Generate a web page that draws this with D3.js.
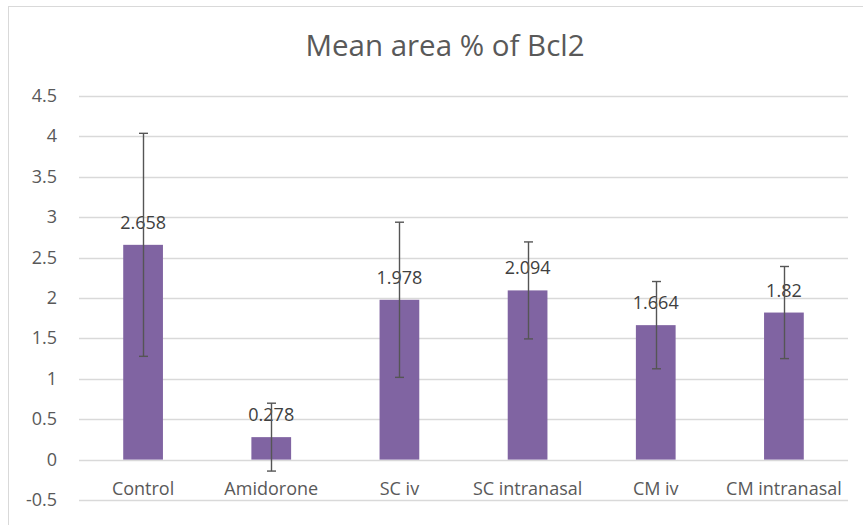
<!DOCTYPE html>
<meta charset="utf-8">
<style>
body { margin: 0; background: #fff; }
text { font-family: "Open Sans", sans-serif; }
</style>
<svg width="863" height="525"></svg>
<script src="https://cdn.jsdelivr.net/npm/d3@7"></script>
<script>
// values
var categories = ["Control", "Amidorone", "SC iv", "SC intranasal", "CM iv", "CM intranasal"];
var means = [2.658, 0.278, 1.978, 2.094, 1.664, 1.82];
var errors = [1.38, 0.42, 0.96, 0.6, 0.54, 0.57];
var yTicks = [-0.5, 0, 0.5, 1, 1.5, 2, 2.5, 3, 3.5, 4, 4.5];

var svg = d3.select("svg");

// chart frame
svg.append("rect")
    .attr("x", 8.5).attr("y", 6.5)
    .attr("width", 860).attr("height", 525)
    .attr("fill", "none").attr("stroke", "#d9d9d9");

var x = d3.scaleBand().domain(categories).range([79, 848]).paddingInner(0.69).paddingOuter(0.345);
var y = d3.scaleLinear().domain([-0.5, 4.5]).range([500, 96]);

svg.append("text")
    .attr("x", 445).attr("y", 56)
    .attr("text-anchor", "middle")
    .attr("font-size", 29.5).attr("fill", "#595959")
    .text("Mean area % of Bcl2");

// gridlines
svg.append("g").selectAll("line").data(yTicks).join("line")
    .attr("x1", 79).attr("x2", 848)
    .attr("y1", function(d) { return Math.round(y(d)) + 0.5; })
    .attr("y2", function(d) { return Math.round(y(d)) + 0.5; })
    .attr("stroke", "#d9d9d9").attr("stroke-width", 1.3);

// y tick labels
svg.append("g").selectAll("text").data(yTicks).join("text")
    .attr("x", 57).attr("y", function(d) { return y(d) + 6; })
    .attr("text-anchor", "end")
    .attr("font-size", 18).attr("fill", "#595959")
    .text(function(d) { return d; });

// bars
svg.append("g").selectAll("rect").data(means).join("rect")
    .attr("x", function(d, i) { return x(categories[i]); })
    .attr("width", x.bandwidth())
    .attr("y", function(d) { return y(d); })
    .attr("height", function(d) { return y(0) - y(d); })
    .attr("fill", "#8064a2");

// category labels
svg.append("g").selectAll("text").data(categories).join("text")
    .attr("x", function(d) { return x(d) + x.bandwidth() / 2; })
    .attr("y", 495)
    .attr("text-anchor", "middle")
    .attr("font-size", 18).attr("fill", "#595959")
    .text(function(d) { return d; });

// data labels
svg.append("g").selectAll("text").data(means).join("text")
    .attr("x", function(d, i) { return x(categories[i]) + x.bandwidth() / 2; })
    .attr("y", function(d) { return y(d) - 16; })
    .attr("text-anchor", "middle")
    .attr("font-size", 18).attr("fill", "#404040")
    .text(function(d) { return d; });

// error bars
var eb = svg.append("g").attr("stroke", "#555").attr("stroke-width", 1.4);
means.forEach(function(m, i) {
  var cx = Math.round(x(categories[i]) + x.bandwidth() / 2) + 0.5;
  var top = y(m + errors[i]), bot = y(m - errors[i]);
  eb.append("line").attr("x1", cx).attr("x2", cx).attr("y1", top).attr("y2", bot);
  eb.append("line").attr("x1", cx - 4.5).attr("x2", cx + 4.5).attr("y1", top).attr("y2", top);
  eb.append("line").attr("x1", cx - 4.5).attr("x2", cx + 4.5).attr("y1", bot).attr("y2", bot);
});
</script>
